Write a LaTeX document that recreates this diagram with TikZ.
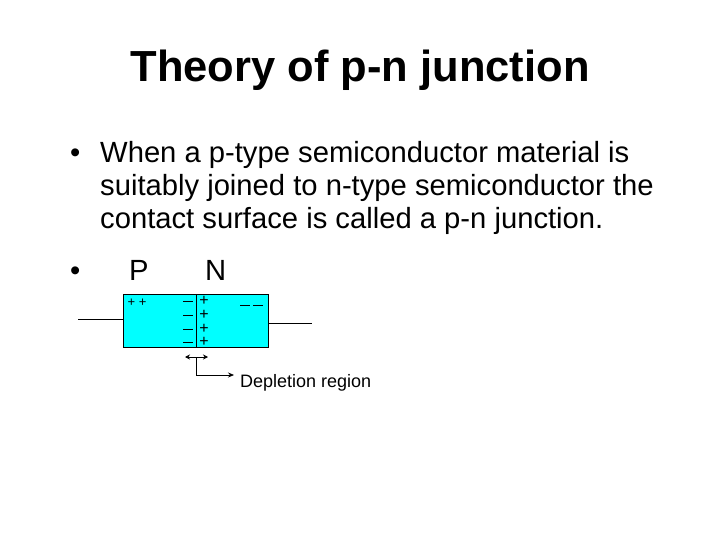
\documentclass[tikz,border=0pt]{standalone}
\usepackage{fontspec}
\setmainfont{Liberation Sans}
\usetikzlibrary{arrows.meta}
\definecolor{aqua}{RGB}{0,255,255}
\begin{document}
\begin{tikzpicture}[x=1pt,y=-1pt,
  txt/.style={anchor=base west,inner sep=0pt,font=\fontsize{29.2}{33}\selectfont},
  sgn/.style={inner sep=0pt,font=\fontsize{16}{16}\selectfont},
  wire/.style={draw=black,line width=0.7pt},
  tip/.style={-{Stealth[length=6pt,width=5pt]}}]
\useasboundingbox (0,0) rectangle (720,540);
\node[inner sep=0pt,font=\bfseries\fontsize{43.5}{46}\selectfont] (title) at (360,70) {Theory of p-n junction};
\node[txt] (b1) at (70,163) {•};
\node[txt] (l1) at (100,163) {When a p-type semiconductor material is};
\node[txt] (l2) at (100,196) {suitably joined to n-type semiconductor the};
\node[txt] (l3) at (100,229) {contact surface is called a p-n junction.};
\node[txt] (b2) at (70,280) {•};
\node[txt] (P) at (129,280) {P};
\node[txt] (N) at (205,280) {N};
\node[draw=black,fill=aqua,line width=0.7pt,minimum width=145pt,minimum height=53pt,inner sep=0pt] (box) at (195.5,320.5) {};
\coordinate (lw) at (78,319);
\coordinate (lwe) at (123,319);
\coordinate (rw) at (268,323);
\coordinate (rwe) at (312,323);
\draw[wire] (lw) -- (lwe);
\draw[wire] (rw) -- (rwe);
\coordinate (jt) at (196,294);
\coordinate (jb) at (196,347);
\draw[wire] (jt) -- (jb);
\foreach \yy in {301,315,329,342}{
  \draw[wire] (183,\yy) -- (193,\yy);
  \node[sgn] at (204,\yy) {+};
}
\node[sgn,font=\fontsize{13}{13}\selectfont] (pp) at (137,303) {+ +};
\draw[wire] (240,305) -- (250,305);
\draw[wire] (253,305) -- (263,305);
\coordinate (da) at (185,357);
\coordinate (db) at (208,357);
\draw[wire,{Stealth[length=5pt,width=5pt]}-{Stealth[length=5pt,width=5pt]}] (da) -- (db);
\coordinate (dv) at (196,357);
\coordinate (dc) at (196,375);
\coordinate (de) at (234,375);
\node[inner sep=0pt,anchor=base west,font=\fontsize{18}{20}\selectfont] (dep) at (240,387) {Depletion region};
\draw[wire,tip] (dv) -- (dc) -- (de);
\end{tikzpicture}
\end{document}
